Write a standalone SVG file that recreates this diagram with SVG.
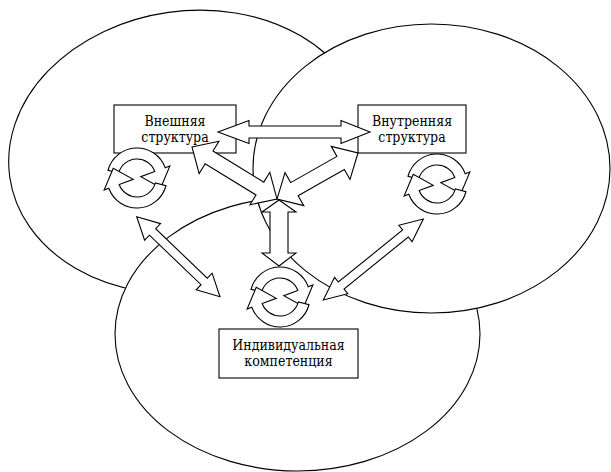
<svg xmlns="http://www.w3.org/2000/svg" xmlns:xlink="http://www.w3.org/1999/xlink" width="611" height="472" viewBox="0 0 611 472">
<style>
.e{fill:#fff;stroke:#000;stroke-width:1.1}
.b{fill:#fff;stroke:#000;stroke-width:1.1}
.a{fill:#fff;stroke:#000;stroke-width:1.1;stroke-linejoin:miter}
.t{font-family:'DejaVu Serif Condensed','DejaVu Serif','Liberation Serif',serif;font-stretch:condensed;font-size:14px;fill:#000;text-anchor:middle}
</style>
<defs>
<path id="ca" class="a" d="M-28.98,-7.76 A30,30 0 0 1 28.19,-10.26 L32.89,-11.97 L23.76,9.83 L3.76,-1.37 L17.85,-6.50 A19,19 0 0 0 -18.35,-4.92 Z"/>
</defs>
<rect width="611" height="472" fill="#fff"/>
<g id="regions">
<ellipse id="region-external" class="e" cx="188" cy="152" rx="180" ry="141" transform="rotate(-8 188 152)"/>
<ellipse id="region-individual" class="e" cx="297.5" cy="334" rx="182.5" ry="137"/>
<ellipse id="region-internal" class="e" cx="431.5" cy="168.5" rx="178.5" ry="144.5"/>
</g>
<g id="node-external">
<rect class="b" x="114" y="105" width="122" height="48"/>
<text class="t" x="175" y="126">Внешняя</text>
<text class="t" x="175" y="142">структура</text>
</g>
<g id="node-internal">
<rect class="b" x="358" y="105" width="108" height="48"/>
<text class="t" x="412" y="126">Внутренняя</text>
<text class="t" x="412" y="142">структура</text>
</g>
<g id="node-individual">
<rect class="b" x="219" y="329" width="139" height="49"/>
<text class="t" x="288.5" y="350">Индивидуальная</text>
<text class="t" x="288.5" y="366">компетенция</text>
</g>
<g id="connectors">
<polygon class="a" points="218,132 249,120.5 249,126 341,126 341,120.5 370,132 341,143.5 341,138 249,138 249,143.5"/>
<polygon class="a" transform="translate(192 147) rotate(31.46)" points="0,0 20,-19 20,-7.5 79.6,-7.5 79.6,-19 99.6,0 79.6,19 79.6,7.5 20,7.5 20,19"/>
<polygon class="a" transform="translate(358 153) rotate(150.4)" points="0,0 20,-19 20,-7.5 73.15,-7.5 73.15,-19 93.15,0 73.15,19 73.15,7.5 20,7.5 20,19"/>
<polygon class="a" points="279,200 296,212 288,212 288,253 296,253 279,266 262,253 270,253 270,212 262,212"/>
<polygon class="a" transform="translate(136.7 216.7) rotate(43.84)" points="0,0 22,-11.5 22,-4.5 93.5,-4.5 93.5,-11.5 115.5,0 93.5,11.5 93.5,4.5 22,4.5 22,11.5"/>
<polygon class="a" transform="translate(323.3 300) rotate(-39)" points="0,0 23,-10.5 23,-4.5 105.7,-4.5 105.7,-10.5 128.7,0 105.7,10.5 105.7,4.5 23,4.5 23,10.5"/>
</g>
<g id="loop-external">
<use xlink:href="#ca" transform="translate(137 178)"/>
<use xlink:href="#ca" transform="translate(137 178) rotate(180)"/>
</g>
<g id="loop-internal">
<use xlink:href="#ca" transform="translate(437 184)"/>
<use xlink:href="#ca" transform="translate(437 184) rotate(180)"/>
</g>
<g id="loop-individual">
<use xlink:href="#ca" transform="translate(280 297)"/>
<use xlink:href="#ca" transform="translate(280 297) rotate(180)"/>
</g>
</svg>
